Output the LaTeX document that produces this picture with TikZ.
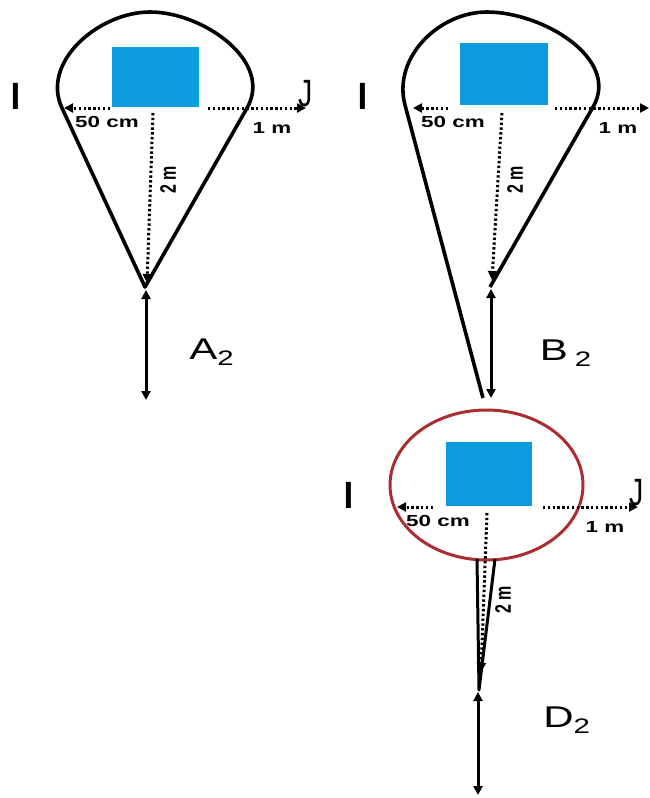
\documentclass[tikz,border=0pt]{standalone}
\usepackage{fontspec}
\setmainfont{Liberation Sans}
\usepackage{graphicx}
\usetikzlibrary{arrows.meta}
\definecolor{boxblue}{RGB}{12,156,222}
\definecolor{ringred}{RGB}{170,45,50}
\newcommand{\wid}[1]{\scalebox{1.4}[1]{#1}}
\newcommand{\tal}[1]{\scalebox{1}[1.4]{#1}}
\begin{document}
\begin{tikzpicture}[x=1pt,y=1pt,
  outline/.style={line width=3.6pt, line join=round},
  dotarrow/.style={line width=3pt, dash pattern=on 2.4pt off 2.4pt, -{Triangle[length=9pt,width=9pt]}},
  force/.style={line width=3pt, {Triangle[length=9pt,width=9pt]}-{Triangle[length=9pt,width=9pt]}},
  blk/.style={fill=boxblue, draw=none, inner sep=0pt},
  dim/.style={font=\fontsize{16}{16}\selectfont\bfseries, inner sep=0pt},
  sidemark/.style={font=\fontsize{38}{38}\selectfont, inner sep=0pt},
  tag/.style={font=\fontsize{30}{30}\selectfont, inner sep=0pt},
  ring/.style={draw=ringred, line width=3pt},
]
\useasboundingbox (0,0) rectangle (649,-798);

% ---------- Panel A ----------
\node[blk, minimum width=87pt, minimum height=60pt] (boxA) at (155.5,-77) {};
\coordinate (A-tip) at (145,-287);
\coordinate (A-L) at (62,-108);
\coordinate (A-top) at (150,-12);
\coordinate (A-R) at (247,-108);
\draw[outline] (A-tip) -- (A-L) to[out=115,in=180] (A-top) to[out=0,in=60] (A-R) -- cycle;
\coordinate (A-ls) at (110,-108); \coordinate (A-le) at (64,-108);
\coordinate (A-rs) at (208,-108); \coordinate (A-re) at (306,-108);
\coordinate (A-vs) at (153,-113); \coordinate (A-ve) at (147,-283);
\coordinate (A-fs) at (146,-290); \coordinate (A-fe) at (146,-400);
\draw[dotarrow] (A-ls) -- (A-le);
\draw[dotarrow] (A-rs) -- (A-re);
\draw[dotarrow] (A-vs) -- (A-ve);
\draw[force] (A-fs) -- (A-fe);
\node[dim] (A-50) at (107,-122) {\wid{50 cm}};
\node[dim] (A-1m) at (272,-128) {\wid{1 m}};
\node[dim, rotate=90] (A-2m) at (168,-180) {\tal{2 m}};
\node[sidemark] (A-I) at (16,-96) {\wid{I}};
\node[sidemark] (A-J) at (306,-94) {\scalebox{0.75}[1]{J}};
\node[tag] (A-name) at (212,-352) {\wid{A\textsubscript{2}}};

% ---------- Panel B ----------
\node[blk, minimum width=88pt, minimum height=62pt] (boxB) at (504,-74) {};
\coordinate (B-tip) at (490,-287);
\coordinate (B-L) at (405,-105);
\coordinate (B-top) at (487,-12);
\coordinate (B-R) at (593,-107);
\coordinate (B-foot) at (483,-398);
\draw[outline] (B-foot) -- (B-L) to[out=105,in=180] (B-top) to[out=0,in=60] (B-R) -- (B-tip);
\coordinate (B-ls) at (448,-108); \coordinate (B-le) at (413,-108);
\coordinate (B-rs) at (555,-108); \coordinate (B-re) at (649,-108);
\coordinate (B-vs) at (502,-113); \coordinate (B-ve) at (492,-280);
\coordinate (B-fs) at (491,-289); \coordinate (B-fe) at (491,-398);
\draw[dotarrow] (B-ls) -- (B-le);
\draw[dotarrow] (B-rs) -- (B-re);
\draw[dotarrow] (B-vs) -- (B-ve);
\draw[force] (B-fs) -- (B-fe);
\node[dim] (B-50) at (453,-122) {\wid{50 cm}};
\node[dim] (B-1m) at (618,-128) {\wid{1 m}};
\node[dim, rotate=90] (B-2m) at (515,-180) {\tal{2 m}};
\node[sidemark] (B-I) at (363,-96) {\wid{I}};
\node[tag] (B-name) at (566,-353) {\wid{B\,\textsubscript{2}}};

% ---------- Panel D ----------
\draw[ring] (486.5,-485) ellipse [x radius=96.5, y radius=75];
\node[blk, minimum width=86pt, minimum height=64pt] (boxD) at (489,-474) {};
\coordinate (D-wl) at (477,-559);
\coordinate (D-tip) at (479,-690);
\coordinate (D-wr) at (495,-559);
\draw[line width=3pt, line join=round] (D-wl) -- (D-tip) -- (D-wr);
\coordinate (D-ls) at (433,-507); \coordinate (D-le) at (397,-507);
\coordinate (D-rs) at (543,-507); \coordinate (D-re) at (638,-507);
\coordinate (D-vs) at (487,-513); \coordinate (D-ve) at (481,-672);
\coordinate (D-fs) at (478,-692); \coordinate (D-fe) at (478,-795);
\draw[dotarrow] (D-ls) -- (D-le);
\draw[dotarrow] (D-rs) -- (D-re);
\draw[dotarrow] (D-vs) -- (D-ve);
\draw[force] (D-fs) -- (D-fe);
\node[dim] (D-50) at (438,-521) {\wid{50 cm}};
\node[dim] (D-1m) at (605,-527) {\wid{1 m}};
\node[dim, rotate=90] (D-2m) at (503,-600) {\tal{2 m}};
\node[sidemark] (D-I) at (349,-495) {\wid{I}};
\node[sidemark] (D-J) at (637,-493) {\scalebox{0.75}[1]{J}};
\node[tag] (D-name) at (567,-720) {\wid{D\textsubscript{2}}};
\end{tikzpicture}
\end{document}
